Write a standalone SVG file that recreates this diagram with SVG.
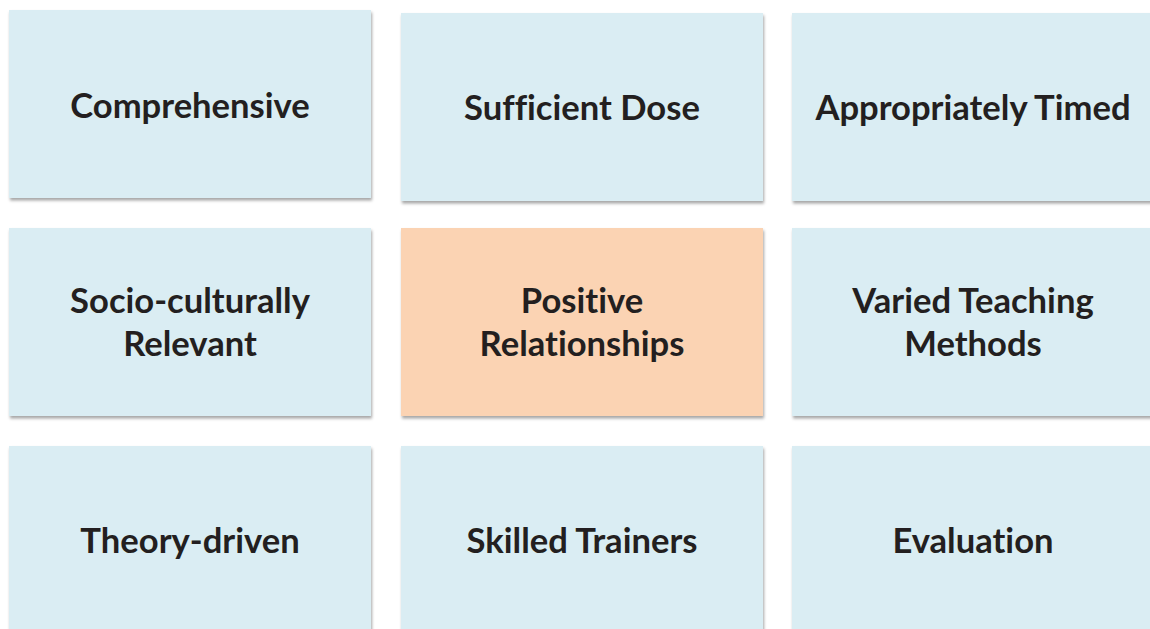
<svg xmlns="http://www.w3.org/2000/svg" width="1150" height="629" viewBox="0 0 1150 629">
<defs>
<filter id="sh" x="-5%" y="-5%" width="110%" height="115%">
<feDropShadow dx="1" dy="2.5" stdDeviation="1.5" flood-color="#000" flood-opacity="0.35"/>
</filter>
<style>
.b{fill:#daedf3;filter:url(#sh)}
.o{fill:#fbd3b3;filter:url(#sh)}
text{font-family:Lato,"Open Sans","Liberation Sans",sans-serif;font-weight:bold;font-size:34.6px;fill:#231f20;text-anchor:middle;font-variant-ligatures:none}
</style>
</defs>
<rect width="1150" height="629" fill="#fff"/>
<g id="comprehensive"><rect class="b" x="9" y="10" width="362" height="188"/><text x="190" y="118">Comprehensive</text></g>
<g id="sufficient-dose"><rect class="b" x="401" y="13" width="362" height="188"/><text x="582" y="120">Sufficient Dose</text></g>
<g id="appropriately-timed"><rect class="b" x="792" y="13" width="362" height="188"/><text x="973" y="120">Appropriately Timed</text></g>
<g id="socio-culturally-relevant"><rect class="b" x="9" y="228" width="362" height="188"/><text x="190" y="313">Socio-culturally</text><text x="190" y="356">Relevant</text></g>
<g id="positive-relationships"><rect class="o" x="401" y="228" width="362" height="188"/><text x="582" y="313">Positive</text><text x="582" y="356">Relationships</text></g>
<g id="varied-teaching-methods"><rect class="b" x="792" y="228" width="362" height="188"/><text x="973" y="313">Varied Teaching</text><text x="973" y="356">Methods</text></g>
<g id="theory-driven"><rect class="b" x="9" y="446" width="362" height="188"/><text x="190" y="553">Theory-driven</text></g>
<g id="skilled-trainers"><rect class="b" x="401" y="446" width="362" height="188"/><text x="582" y="553">Skilled Trainers</text></g>
<g id="evaluation"><rect class="b" x="792" y="446" width="362" height="188"/><text x="973" y="553">Evaluation</text></g>
<g id="connectors"/>
</svg>
